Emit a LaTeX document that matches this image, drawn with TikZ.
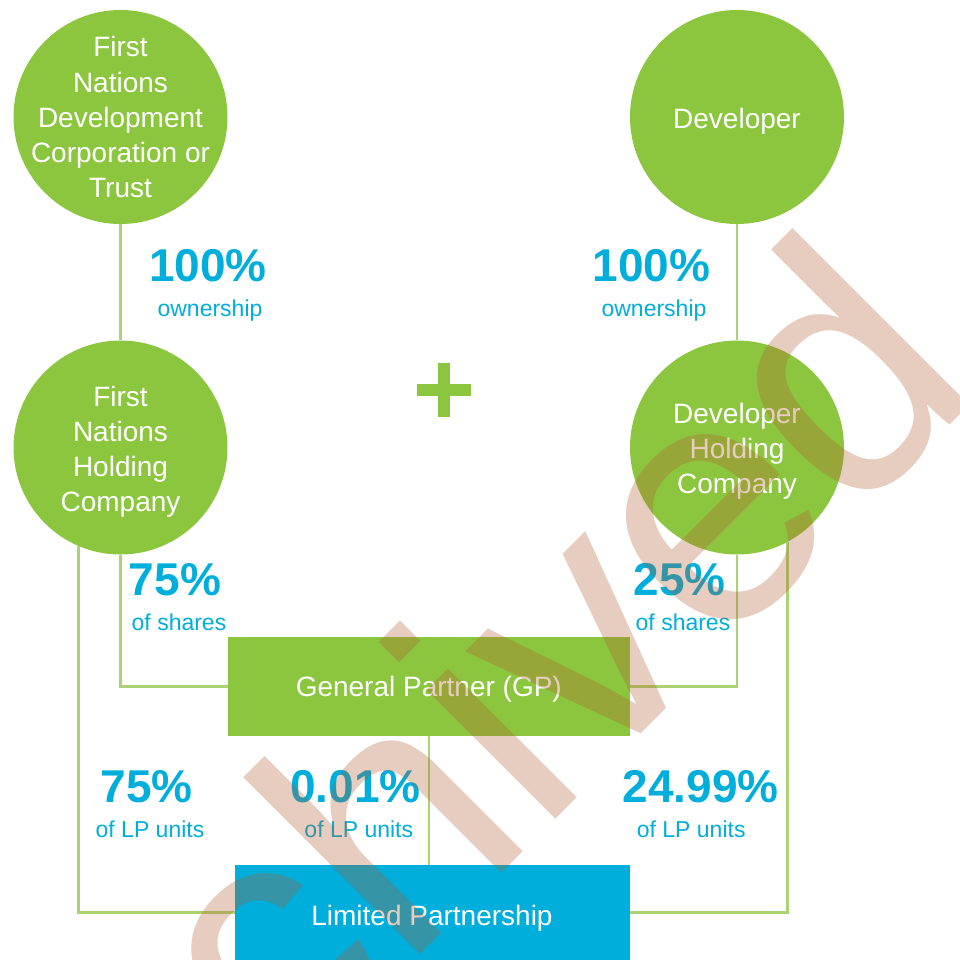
\documentclass[tikz,border=0pt]{standalone}
\usepackage{fontspec}
\setmainfont{Liberation Sans}
\definecolor{fngreen}{RGB}{140,198,63}
\definecolor{fnblue}{RGB}{0,174,219}
\definecolor{linkcol}{RGB}{170,212,115}
\definecolor{wmcol}{RGB}{178,92,45}
\begin{document}
\begin{tikzpicture}[x=1pt,y=-1pt,
  ent/.style={circle, fill=fngreen, minimum size=214pt, inner sep=0pt},
  enttext/.style={text=white, align=center, font=\fontsize{28}{35.2}\selectfont, inner sep=0pt},
  boxshape/.style={rectangle, inner sep=0pt},
  link/.style={draw=linkcol, line width=2.5pt},
  pct/.style={text=fnblue, font=\fontsize{46}{46}\selectfont\bfseries, inner sep=0pt, anchor=base},
  subtxt/.style={text=fnblue, font=\fontsize{23}{23}\selectfont, inner sep=0pt, anchor=base},
  boxtext/.style={text=white, font=\fontsize{28}{28}\selectfont, inner sep=0pt, anchor=base},
]
\useasboundingbox (0,0) rectangle (959,960);
\fill[white] (0,0) rectangle (959,960);

% entities
\node[ent] (c1) at (120.5,117) {};
\node[ent] (c2) at (737,117) {};
\node[ent] (c3) at (120.5,447.5) {};
\node[ent] (c4) at (737,447.5) {};
\node[boxshape, fill=fngreen, minimum width=402pt, minimum height=99pt] (gp) at (429,686.5) {};
\node[boxshape, fill=fnblue, minimum width=395pt, minimum height=95pt] (lp) at (432.5,912.5) {};

% connectors
\draw[link] (c1.south) -- (c3.north);
\draw[link] (c2.south) -- (c4.north);
\draw[link] (c3.south) |- (gp.west);
\draw[link] (c4.south) |- (gp.east);
\draw[link] (c3.247) |- (lp.west);
\draw[link] (c4.298) |- (lp.east);
\draw[link] (gp.south) -- (gp.south |- lp.north);

% entity texts
\node[enttext] (t1) at (120.5,117.3) {First\\Nations\\Development\\Corporation or\\Trust};
\node[enttext, anchor=base] (t2) at (737,128.3) {Developer};
\node[enttext] (t3) at (120.5,451.9) {First\\Nations\\Holding\\Company};
\node[enttext] (t4) at (737,451) {Developer\\Holding\\Company};
\node[boxtext] (gpt) at (428.8,696.5) {General Partner (GP)};
\node[boxtext] (lpt) at (432,925) {Limited Partnership};

% percentages
\node[pct] (p1) at (208,281.7) {100\%};
\node[subtxt] (s1) at (210,316) {ownership};
\node[pct] (p2) at (651.5,281.7) {100\%};
\node[subtxt] (s2) at (654,316) {ownership};
\node[pct] (p3) at (175,595) {75\%};
\node[subtxt] (s3) at (179,630) {of shares};
\node[pct] (p4) at (679.5,595) {25\%};
\node[subtxt] (s4) at (683,630) {of shares};
\node[pct] (p5) at (146.8,802.7) {75\%};
\node[subtxt] (s5) at (150,837.3) {of LP units};
\node[pct] (p6) at (355.3,802.7) {0.01\%};
\node[subtxt] (s6) at (358.8,837.3) {of LP units};
\node[pct] (p7) at (700.5,802.7) {24.99\%};
\node[subtxt] (s7) at (691.2,837.3) {of LP units};

% plus sign
\fill[fngreen] (416.7,384.3) rectangle (470.7,396);
\fill[fngreen] (438.3,362.7) rectangle (450,416.7);

% watermark
\node[inner sep=0pt, anchor=base west, rotate=45, text=wmcol, text opacity=0.3,
      font=\fontsize{345}{345}\selectfont] (wm) at (37.5,1337.5) {Archived};
\end{tikzpicture}
\end{document}
